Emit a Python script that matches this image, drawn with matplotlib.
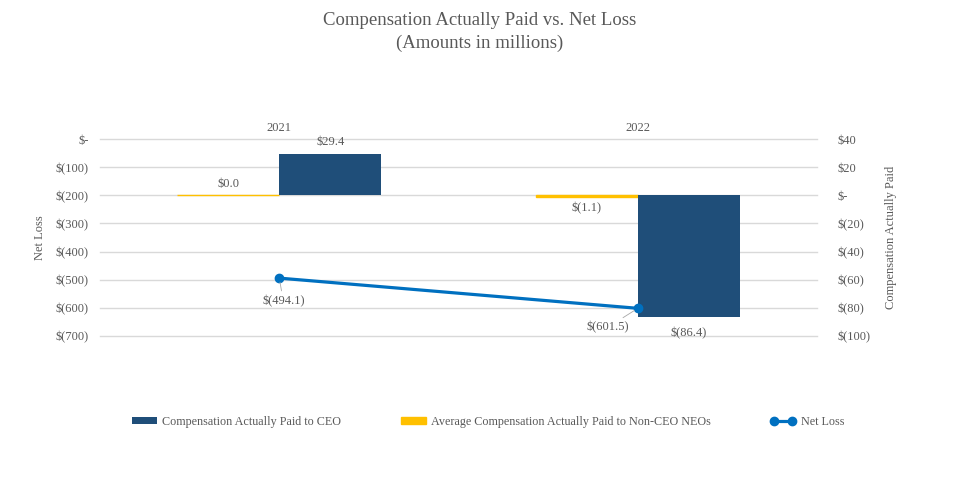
import numpy as np
import matplotlib.pyplot as plt
from matplotlib.ticker import FuncFormatter

years = ["2021", "2022"]
cap_ceo = [29.4, -86.4]
cap_neo = [0.0, -1.1]
net_loss = [-494.1, -601.5]

BLUE = "#1F4E79"
GOLD = "#FFC000"
LINE = "#0070C0"
TXT = "#595959"

plt.rcParams["font.family"] = "serif"
plt.rcParams["font.serif"] = ["Liberation Serif", "DejaVu Serif"]
plt.rcParams["text.color"] = TXT


def money(v, pos=None):
    if abs(v) < 1e-9:
        return "$-"
    if v < 0:
        return f"$({abs(v):.0f})"
    return f"${v:.0f}"


fig = plt.figure(figsize=(9.59, 4.78), dpi=100)
ax1 = fig.add_axes([0.1043, 0.297, 0.7477, 0.412])
ax2 = ax1.twinx()
ax1.set_zorder(ax2.get_zorder() + 1)
ax1.patch.set_visible(False)

x = np.arange(len(years))
w = 0.285

# bars on right axis
ax2.bar(x - w / 2, cap_neo, w, color=GOLD, edgecolor=GOLD, linewidth=1, zorder=3,
        label="Average Compensation Actually Paid to Non-CEO NEOs")
ax2.bar(x + w / 2, cap_ceo, w, color=BLUE, zorder=3, label="Compensation Actually Paid to CEO")
ax2.set_ylim(-100, 40)
ax2.set_yticks(np.arange(-100, 41, 20))
ax2.yaxis.set_major_formatter(FuncFormatter(money))
ax2.grid(axis="y", color="#D9D9D9", linewidth=1, zorder=0)
ax2.set_axisbelow(True)
for gl in ax2.get_ygridlines():
    gl.set_clip_on(False)
for lab in ax2.get_yticklabels():
    lab.set_horizontalalignment("left")
ax2.tick_params(axis="y", length=0, pad=15, labelsize=9, labelcolor=TXT)
ax2.set_ylabel("Compensation Actually Paid", fontsize=9, color=TXT, labelpad=10)

# line on left axis
ax1.plot(x, net_loss, color=LINE, linewidth=2.3, marker="o", markersize=6, zorder=5,
         label="Net Loss")
ax1.set_ylim(-700, 0)
ax1.set_yticks(np.arange(-700, 1, 100))
ax1.yaxis.set_major_formatter(FuncFormatter(money))
ax1.tick_params(axis="y", length=0, pad=8, labelsize=9, labelcolor=TXT)
ax1.set_ylabel("Net Loss", fontsize=9, color=TXT, labelpad=7)
ax1.set_xlim(-0.5, 1.5)
ax1.set_xticks(x)
ax1.set_xticklabels(years)
ax1.xaxis.tick_top()
ax1.tick_params(axis="x", length=0, pad=4, labelsize=9, labelcolor=TXT)

for a in (ax1, ax2):
    for s in a.spines.values():
        s.set_visible(False)

# data labels for bars
for i in range(len(years)):
    v = cap_ceo[i]
    ax2.annotate(f"${v:.1f}" if v >= 0 else f"$({abs(v):.1f})", (x[i] + w / 2, v),
                 xytext=(0, 4 if v >= 0 else -7), textcoords="offset points",
                 ha="center", va="bottom" if v >= 0 else "top", fontsize=9, zorder=6)
    v = cap_neo[i]
    ax2.annotate(f"${v:.1f}" if v >= 0 else f"$({abs(v):.1f})", (x[i] - w / 2, v),
                 xytext=(0, 4 if v >= 0 else -4), textcoords="offset points",
                 ha="center", va="bottom" if v >= 0 else "top", fontsize=9, zorder=6)

# net loss labels with leader lines
offs = [(4, -23), (-30, -19)]
for i in range(len(years)):
    ax1.annotate(f"$({abs(net_loss[i]):.1f})", (x[i], net_loss[i]), xytext=offs[i],
                 textcoords="offset pixels", ha="center", va="center", fontsize=9,
                 arrowprops=dict(arrowstyle="-", color="#A6A6A6", lw=0.6,
                                 shrinkA=1, shrinkB=3), zorder=6)

fig.suptitle("Compensation Actually Paid vs. Net Loss\n(Amounts in millions)",
             y=0.975, fontsize=13.5, color=TXT, linespacing=1.45)

h2, l2 = ax2.get_legend_handles_labels()
h1, l1 = ax1.get_legend_handles_labels()
handles = [h2[1], h2[0], h1[0]]
labels = [l2[1], l2[0], l1[0]]
fig.legend(handles, labels, loc="center", bbox_to_anchor=(0.509, 0.118), ncol=3,
           frameon=False, fontsize=8.7, handlelength=2.1, handleheight=0.6,
           handletextpad=0.45, columnspacing=4.9, numpoints=2, labelcolor=TXT)

fig.savefig("out.png", dpi=100)
